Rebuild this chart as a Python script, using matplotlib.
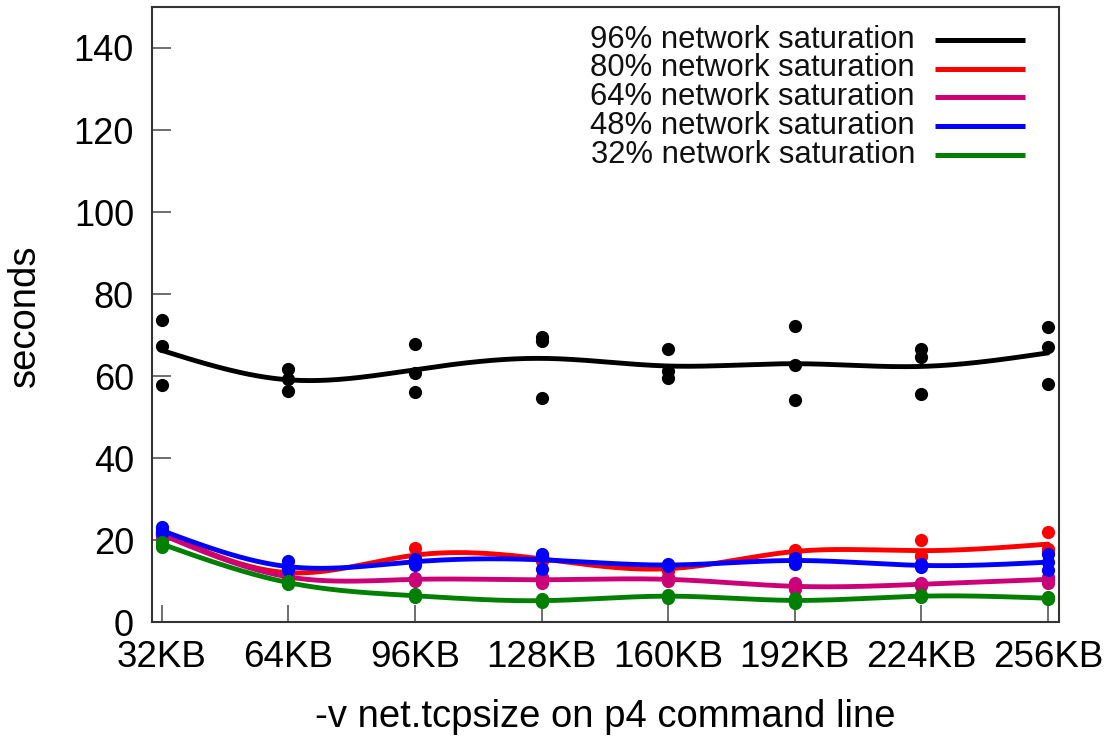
import numpy as np
import matplotlib
matplotlib.use("Agg")
import matplotlib.pyplot as plt

plt.rcParams['font.family'] = ['Liberation Sans', 'DejaVu Sans']

# ---------------- data ----------------
sizes_kb = [32, 64, 96, 128, 160, 192, 224, 256]
tick_labels = ["32KB", "64KB", "96KB", "128KB", "160KB", "192KB", "224KB", "256KB"]

sat96 = [[73.7, 67.2, 57.8], [61.6, 59.2, 56.4], [67.7, 60.8, 56.1], [69.6, 68.6, 54.7],
         [66.5, 61.2, 59.6], [72.2, 62.7, 54.1], [66.7, 64.7, 55.6], [71.9, 67.0, 58.0]]
sat80 = [[22.5, 21.8, 21.2], [12.8, 12.0, 11.3], [18.0, 15.6, 15.3], [16.0, 15.4, 14.8],
         [13.6, 13.0, 12.4], [17.6, 17.2, 16.8], [20.0, 16.2, 16.0], [21.9, 17.8, 17.3]]
sat64 = [[21.8, 21.3, 20.8], [11.3, 11.0, 10.7], [10.8, 10.4, 10.0], [11.0, 10.5, 9.4],
         [10.9, 10.4, 9.9], [9.6, 8.4, 8.1], [9.6, 9.2, 8.8], [11.0, 10.6, 9.6]]
sat48 = [[23.1, 22.2, 21.6], [14.8, 13.0, 12.7], [15.4, 14.8, 13.9], [16.6, 16.0, 12.9],
         [14.2, 13.9, 13.6], [15.6, 15.2, 14.2], [14.2, 13.8, 13.4], [16.6, 14.6, 12.6]]
sat32 = [[19.6, 19.0, 18.4], [10.0, 9.6, 9.2], [6.8, 6.4, 6.0], [5.5, 5.1, 5.0],
         [6.7, 6.3, 5.9], [5.9, 5.2, 4.7], [6.6, 6.3, 6.0], [6.1, 5.8, 5.5]]

series_labels = ["96% network saturation", "80% network saturation", "64% network saturation",
                 "48% network saturation", "32% network saturation"]
series_data = [sat96, sat80, sat64, sat48, sat32]
series_colors = ["#000000", "#ff0000", "#cc0077", "#0000ff", "#008000"]


def natural_cspline(x, y, xs):
    """Natural cubic spline through (x, y), evaluated at xs (gnuplot 'smooth csplines')."""
    x = np.asarray(x, float)
    y = np.asarray(y, float)
    n = len(x)
    h = np.diff(x)
    A = np.zeros((n, n))
    b = np.zeros(n)
    A[0, 0] = 1.0
    A[-1, -1] = 1.0
    for i in range(1, n - 1):
        A[i, i - 1] = h[i - 1]
        A[i, i] = 2 * (h[i - 1] + h[i])
        A[i, i + 1] = h[i]
        b[i] = 3 * ((y[i + 1] - y[i]) / h[i] - (y[i] - y[i - 1]) / h[i - 1])
    c = np.linalg.solve(A, b)
    out = np.empty_like(xs, dtype=float)
    for j, xv in enumerate(xs):
        i = min(max(np.searchsorted(x, xv) - 1, 0), n - 2)
        dx = xv - x[i]
        bi = (y[i + 1] - y[i]) / h[i] - h[i] * (2 * c[i] + c[i + 1]) / 3
        di = (c[i + 1] - c[i]) / (3 * h[i])
        out[j] = y[i] + bi * dx + c[i] * dx ** 2 + di * dx ** 3
    return out


# ---------------- figure ----------------
fig = plt.figure(figsize=(11.1, 7.38), dpi=100)
L, R, B, T = 152, 1059, 622, 7
W, H = 1110, 738
ax = fig.add_axes([L / W, 1 - B / H, (R - L) / W, (B - T) / H])

xs = np.linspace(sizes_kb[0], sizes_kb[-1], 400)
for data, col in zip(series_data, series_colors):
    xpts = np.repeat(sizes_kb, [len(v) for v in data])
    ypts = np.concatenate(data)
    means = [np.mean(v) for v in data]
    ax.plot(xs, natural_cspline(sizes_kb, means, xs), color=col, lw=3.5,
            solid_capstyle='round', zorder=3)
    ax.plot(xpts, ypts, 'o', color=col, ms=9.5, mec='none', zorder=3)

ax.set_xlim(29.5, 258.8)
ax.set_ylim(0, 150)
ax.set_xticks(sizes_kb)
ax.set_xticklabels(tick_labels)
ax.set_yticks(range(0, 141, 20))

for s in ax.spines.values():
    s.set_color("#333333")
    s.set_linewidth(1.5)

ax.tick_params(axis='y', direction='in', length=14, width=1.2, color='#555555',
               labelsize=26, pad=13, right=False)
ax.tick_params(axis='x', direction='in', length=12, width=1.2, color='#555555',
               labelsize=26.5, pad=13, top=False)

ax.set_xlabel("-v net.tcpsize on p4 command line", fontsize=27.5, va='center')
ax.xaxis.set_label_coords((605 - L) / (R - L), (B - 717) / (B - T))
ax.set_ylabel("seconds", fontsize=27.5, va='center')
ax.yaxis.set_label_coords((25 - L) / (R - L), (B - 316) / (B - T))

# legend (gnuplot style: text right-justified, sample on the right)
row_y = [40, 68.5, 97, 126, 155]
for lab, col, py in zip(series_labels, series_colors, row_y):
    yy = (B - py) / (B - T)
    ax.text((915 - L) / (R - L), yy, lab, transform=ax.transAxes, ha='right',
            va='center', fontsize=22.3, color='#111111')
    ax.plot([(935 - L) / (R - L), (1025 - L) / (R - L)], [yy, yy], transform=ax.transAxes,
            color=col, lw=3.6, solid_capstyle='butt', clip_on=False)

fig.savefig("out.png", dpi=100)
